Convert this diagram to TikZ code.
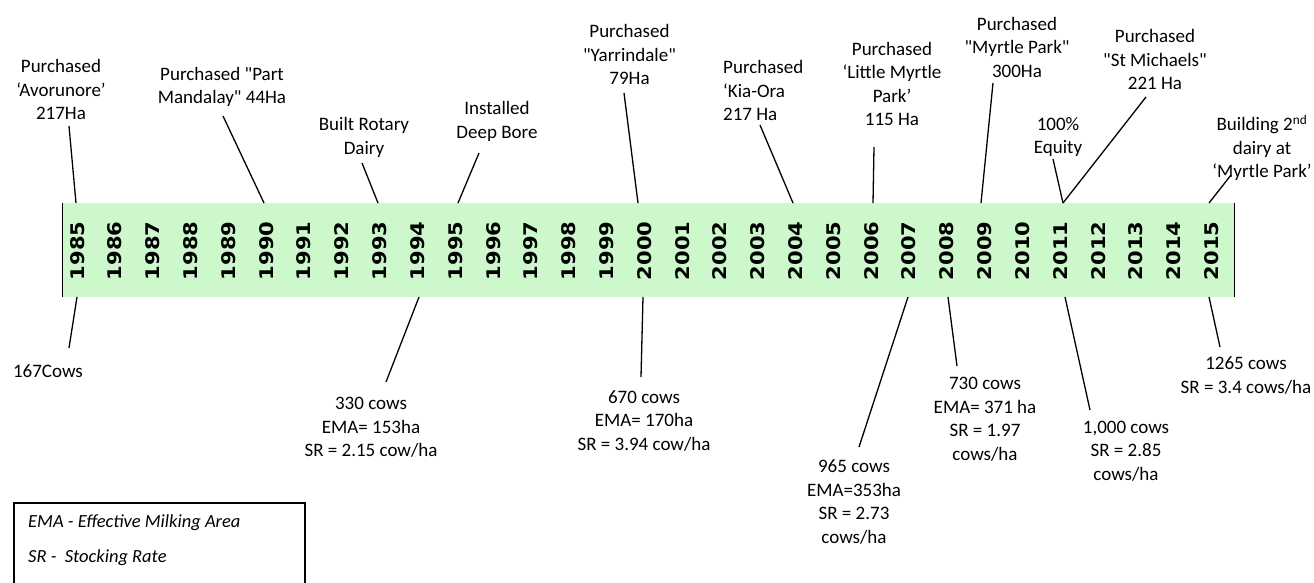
\documentclass[tikz,border=0pt]{standalone}
\usepackage{fontspec}
\setmainfont{Carlito}[Ligatures=TeXOff]
\newfontfamily\yearfont{DejaVu Sans}[FakeStretch=1.12]
\definecolor{barGreen}{RGB}{204,248,204}
\tikzset{
  lbl/.style={align=center, inner sep=0pt, font=\fontsize{19}{23.5}\selectfont},
  yr/.style={rotate=90, inner sep=0pt, font=\yearfont\bfseries\fontsize{18.8}{20}\selectfont},
  pin/.style={line width=1.3pt},
  key/.style={anchor=west, inner sep=0pt, font=\itshape\fontsize{18.5}{22}\selectfont}
}

\begin{document}
\begin{tikzpicture}[x=1pt,y=-1pt]
\useasboundingbox (0,0) rectangle (1314,583);

 % bar
  \coordinate (BarTL) at (62,203);
  \coordinate (BarBL) at (62,297);
  \coordinate (BarTR) at (1234,203);
  \coordinate (BarBR) at (1234,297);
  \fill[barGreen] (BarTL) rectangle (BarBR);
  \draw[line width=1pt] (BarTL) -- (BarBL);
  \draw[line width=1pt] (BarTR) -- (BarBR);
  \foreach \y [count=\i from 0] in {1985,...,2015}
    \node[yr] (Y\y) at ({77.3+37.81*\i},251) {\y};

 %1985
  \coordinate (U85A) at (69,126);
  \coordinate (U85B) at (76,203);
  \coordinate (L85A) at (77,297);
  \coordinate (L85B) at (69,348);
  \draw[pin] (U85A) -- (U85B);
  \draw[pin] (L85A) -- (L85B);
  \node[lbl] (Avor) at (61,89.5) {Purchased\\‘Avorunore’\\217Ha};
  \node[lbl] (Cow85) at (48,371) {167Cows};

 %1990
  \coordinate (U90A) at (223,116);
  \coordinate (U90B) at (264,203);
  \draw[pin] (U90A) -- (U90B);
  \node[lbl] (Mand) at (222,87) {Purchased "Part\\Mandalay" 44Ha};

 %1993
  \coordinate (U93A) at (362,163);
  \coordinate (U93B) at (378,203);
  \draw[pin] (U93A) -- (U93B);
  \node[lbl] (Rot) at (364,137.5) {Built Rotary\\Dairy};

 %1994
  \coordinate (L94A) at (419,297);
  \coordinate (L94B) at (386,382);
  \draw[pin] (L94A) -- (L94B);
  \node[lbl] (Cow94) at (371,427.5) {330 cows\\EMA= 153ha\\SR = 2.15 cow/ha};

 %1995
  \coordinate (U95A) at (479,153);
  \coordinate (U95B) at (458,203);
  \draw[pin] (U95A) -- (U95B);
  \node[lbl] (Bore) at (497,121.5) {Installed\\Deep Bore};

 %2000
  \coordinate (U00A) at (624,93);
  \coordinate (U00B) at (638,203);
  \coordinate (L00A) at (643,297);
  \coordinate (L00B) at (641,377);
  \draw[pin] (U00A) -- (U00B);
  \draw[pin] (L00A) -- (L00B);
  \node[lbl] (Yarr) at (629.5,54.5) {Purchased\\"Yarrindale"\\79Ha};
  \node[lbl] (Cow00) at (644,420.5) {670 cows\\EMA= 170ha\\SR = 3.94 cow/ha};

 %2004
  \coordinate (U04A) at (760,125);
  \coordinate (U04B) at (793,203);
  \draw[pin] (U04A) -- (U04B);
  \node[lbl, align=left, anchor=west] (Kia) at (723,90.5) {Purchased\\‘Kia-Ora\\217 Ha};

 %2006
  \coordinate (U06A) at (874,147);
  \coordinate (U06B) at (873,203);
  \draw[pin] (U06A) -- (U06B);
  \node[lbl] (Little) at (892,84) {Purchased\\‘Little Myrtle\\Park’\\115 Ha};

 %2007
  \coordinate (L07A) at (908,297);
  \coordinate (L07B) at (859,447);
  \draw[pin] (L07A) -- (L07B);
  \node[lbl] (Cow07) at (854,502) {965 cows\\EMA=353ha\\SR = 2.73\\cows/ha};

 %2008
  \coordinate (L08A) at (948,297);
  \coordinate (L08B) at (957,366);
  \draw[pin] (L08A) -- (L08B);
  \node[lbl] (Cow08) at (985,419) {730 cows\\EMA= 371 ha\\SR = 1.97\\cows/ha};

 %2009
  \coordinate (U09A) at (993,83);
  \coordinate (U09B) at (981,203);
  \draw[pin] (U09A) -- (U09B);
  \node[lbl] (MyrP) at (1017,47) {Purchased\\"Myrtle Park"\\300Ha};

 %2011
  \coordinate (U11A) at (1146,97);
  \coordinate (U11B) at (1063,203);
  \coordinate (U11C) at (1053,159);
  \coordinate (L11A) at (1065,297);
  \coordinate (L11B) at (1090,410);
  \draw[pin] (U11A) -- (U11B);
  \draw[pin] (U11C) -- (U11B);
  \draw[pin] (L11A) -- (L11B);
  \node[lbl] (StM) at (1155,59.5) {Purchased\\"St Michaels"\\221 Ha};
  \node[lbl] (Eq) at (1058,137) {100\%\\Equity};
  \node[lbl] (Cow11) at (1126,451) {1,000 cows\\SR = 2.85\\cows/ha};

 %2015
  \coordinate (U15A) at (1231,175);
  \coordinate (U15B) at (1209,203);
  \coordinate (L15A) at (1209,297);
  \coordinate (L15B) at (1220,347);
  \draw[pin] (U15A) -- (U15B);
  \draw[pin] (L15A) -- (L15B);
  \node[lbl] (Bld) at (1262,148) {Building 2\textsuperscript{nd}\\dairy at\\‘Myrtle Park’};
  \node[lbl] (Cow15) at (1246,375.5) {1265 cows\\SR = 3.4 cows/ha};

 % key
  \coordinate (KeyA) at (14,503);
  \coordinate (KeyB) at (305,595);
  \draw[line width=1.3pt] (KeyA) rectangle (KeyB);
  \node[key] (KeyEMA) at (28,523) {EMA - Effective Milking Area};
  \node[key] (KeySR) at (28,558) {SR -\ \ Stocking Rate};
\end{tikzpicture}
\end{document}
